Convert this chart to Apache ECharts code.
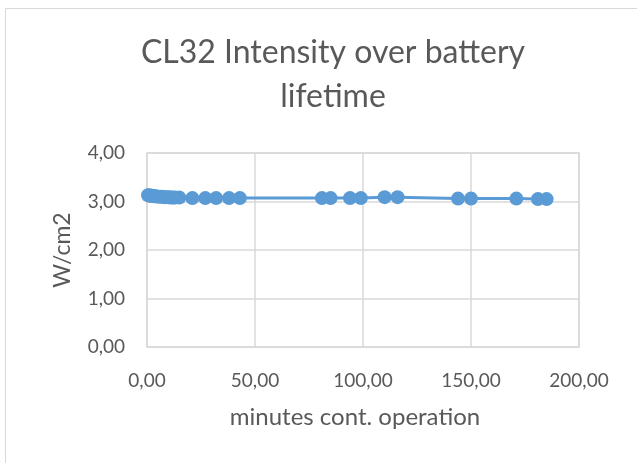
<!DOCTYPE html>
<html>
<head>
<meta charset="utf-8">
<script src="https://cdn.jsdelivr.net/npm/echarts@6/dist/echarts.min.js"></script>
<style>
	html, body { margin: 0; padding: 0; background: #fff; }
	#chart { width: 637px; height: 463px; }
</style>
</head>
<body>
<div id="chart"></div>
<script>
// minutes of continuous operation
var minutes = [0.5, 1, 1.5, 2, 2.5, 3, 3.5, 4, 5, 6, 7, 8, 9, 10, 11, 12, 13, 15,
	21, 27, 32, 38, 43, 81, 85, 94, 99, 110, 116, 144, 150, 171, 181, 185];
// intensity in W/cm2
var intensity = [3.13, 3.13, 3.12, 3.12, 3.12, 3.11, 3.11, 3.11, 3.10, 3.10, 3.10, 3.09, 3.09, 3.09, 3.08, 3.08, 3.08, 3.08,
	3.07, 3.07, 3.07, 3.07, 3.07, 3.07, 3.07, 3.07, 3.07, 3.09, 3.09, 3.06, 3.06, 3.06, 3.05, 3.05];
var xTicks = [0, 50, 100, 150, 200];
var yTicks = [0, 1, 2, 3, 4];

var textColor = "#595959";
var gridColor = "#d9d9d9";
var fontFamily = "Lato, 'Open Sans', sans-serif";

var decimal = function(value) {
	return value.toFixed(2).replace(".", ",");
};

var chart = echarts.init(document.getElementById("chart"), null, {renderer: "canvas"});
var option = {};
option.backgroundColor = "#fff";
option.animation = false;
option.title = {
	text: "CL32 Intensity over battery\nlifetime",
	left: 328,
	top: 26,
	textAlign: "center",
	textStyle: {
		color: textColor,
		fontFamily: fontFamily,
		fontWeight: "normal",
		fontSize: 32,
		lineHeight: 44
	}
};
option.graphic = [{
	// chart area border
	type: "rect",
	shape: {x: 5.5, y: 8.5, width: 700, height: 600},
	style: {fill: null, stroke: gridColor, lineWidth: 1}
}];
option.grid = {
	left: 147,
	right: 58,
	top: 153,
	bottom: 116,
	show: true,
	borderColor: gridColor,
	borderWidth: 1.5
};
option.xAxis = {
	type: "value",
	min: xTicks[0],
	max: xTicks[xTicks.length - 1],
	interval: 50,
	name: "minutes cont. operation",
	nameLocation: "middle",
	nameGap: 58,
	nameTextStyle: {color: textColor, fontFamily: fontFamily, fontSize: 24, padding: [0, 16, 0, 0]},
	axisLine: {show: false},
	axisTick: {show: false},
	axisLabel: {color: textColor, fontFamily: fontFamily, fontSize: 19, margin: 24, formatter: decimal},
	splitLine: {show: true, lineStyle: {color: gridColor, width: 1.5}}
};
option.yAxis = {
	type: "value",
	min: yTicks[0],
	max: yTicks[yTicks.length - 1],
	interval: 1,
	name: "W/cm2",
	nameLocation: "middle",
	nameGap: 73,
	nameTextStyle: {color: textColor, fontFamily: fontFamily, fontSize: 23},
	axisLine: {show: false},
	axisTick: {show: false},
	axisLabel: {color: textColor, fontFamily: fontFamily, fontSize: 19, margin: 22, formatter: decimal},
	splitLine: {show: true, lineStyle: {color: gridColor, width: 1.5}}
};
option.series = [{
	type: "line",
	data: minutes.map(function(m, i) {
		return [m, intensity[i]];
	}),
	symbol: "circle",
	symbolSize: 14,
	itemStyle: {color: "#5b9bd5"},
	lineStyle: {color: "#5b9bd5", width: 3}
}];
chart.setOption(option, true);
</script>
</body>
</html>
